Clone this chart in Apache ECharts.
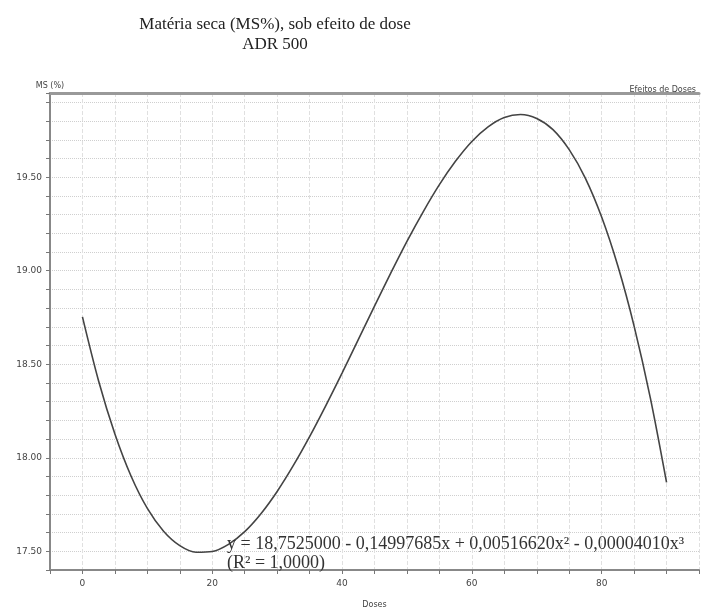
<!DOCTYPE html>
<html>
<head>
<meta charset="utf-8">
<script src="https://cdn.jsdelivr.net/npm/echarts@6/dist/echarts.min.js"></script>
<style>
  html, body { margin: 0; padding: 0; background: #fff; }
  #chart { width: 702px; height: 614px; }
</style>
</head>
<body>
<div id="chart"></div>
<script>
// doses (x) and MS% values
const doses = [0, 2.5, 5, 7.5, 10, 12.5, 15, 17.5, 20, 22.5, 25, 27.5, 30, 32.5, 35, 37.5, 40, 42.5, 45,
  47.5, 50, 52.5, 55, 57.5, 60, 62.5, 65, 67.5, 70, 72.5, 75, 77.5, 80, 82.5, 85, 87.5, 90];
const msValues = [18.753, 18.409, 18.127, 17.901, 17.729, 17.607, 17.530, 17.495, 17.499, 17.537, 17.605,
  17.701, 17.820, 17.959, 18.113, 18.279, 18.453, 18.632, 18.811, 18.987, 19.157, 19.315, 19.460, 19.586,
  19.691, 19.769, 19.819, 19.835, 19.814, 19.754, 19.647, 19.494, 19.287, 19.025, 18.704, 18.320, 17.868];
const xLabelTicks = [0, 20, 40, 60, 80];
const yLabelTicks = [17.5, 18.0, 18.5, 19.0, 19.5];
const equationText = 'y = 18,7525000 - 0,14997685x + 0,00516620x² - 0,00004010x³\n(R² = 1,0000)';

const chart = echarts.init(document.getElementById('chart'));

const serif = '"Liberation Serif", "DejaVu Serif", serif';
const sans = '"DejaVu Sans", "Liberation Sans", sans-serif';

const option = {
  animation: false,
  backgroundColor: '#fff',
  title: [
    {
      text: 'Matéria seca (MS%), sob efeito de dose\nADR 500',
      left: 270,
      textAlign: 'center',
      top: 10,
      textStyle: { fontFamily: serif, fontWeight: 'normal', fontSize: 17, color: '#222', lineHeight: 20 }
    },
    {
      text: 'Efeitos de Doses',
      right: 1,
      top: 81,
      textStyle: { fontFamily: sans, fontWeight: 'normal', fontSize: 8, color: '#444' }
    },
    {
      text: equationText,
      left: 222,
      top: 530,
      textStyle: { fontFamily: serif, fontWeight: 'normal', fontSize: 18, color: '#333', lineHeight: 19 }
    }
  ],
  grid: { left: 50, top: 93, width: 656, height: 483 },
  xAxis: [
    {
      type: 'value',
      min: -5,
      max: 95,
      interval: 5,
      name: 'Doses',
      nameLocation: 'middle',
      nameGap: 31,
      nameTextStyle: { fontFamily: sans, fontSize: 8, color: '#444' },
      axisLine: { onZero: false, lineStyle: { color: '#888', width: 2 } },
      axisTick: { show: true, length: 4, lineStyle: { color: '#777' } },
      axisLabel: {
        fontFamily: sans, fontSize: 9, color: '#444', margin: 9,
        formatter: v => (xLabelTicks.includes(Math.round(v)) && Math.abs(v - Math.round(v)) < 1e-6) ? String(Math.round(v)) : ''
      },
      splitLine: { show: true, lineStyle: { color: '#e0e0e0', type: 'dashed', width: 1 } }
    },
    {
      type: 'value',
      position: 'top',
      min: -5,
      max: 95,
      axisLine: { show: true, onZero: false, lineStyle: { color: '#999', width: 3 } },
      axisTick: { show: false },
      axisLabel: { show: false },
      splitLine: { show: false }
    }
  ],
  yAxis: {
    type: 'value',
    min: 17.4,
    max: 19.95,
    interval: 0.1,
    name: 'MS (%)',
    nameLocation: 'end',
    nameGap: 3,
    nameTextStyle: { fontFamily: sans, fontSize: 8, color: '#444', align: 'center' },
    axisLine: { show: true, onZero: false, lineStyle: { color: '#888', width: 2 } },
    axisTick: { show: true, length: 4, lineStyle: { color: '#777' } },
    axisLabel: {
      fontFamily: sans, fontSize: 9, color: '#444', margin: 8,
      formatter: v => yLabelTicks.some(t => Math.abs(t - v) < 1e-6) ? v.toFixed(2) : ''
    },
    splitLine: { show: true, lineStyle: { color: '#cfcfcf', type: 'dotted', width: 1 } }
  },
  series: [
    {
      type: 'line',
      data: doses.map((d, i) => [d, msValues[i]]),
      smooth: 0.3,
      showSymbol: false,
      lineStyle: { color: '#444', width: 1.6 },
      xAxisIndex: 0
    }
  ]
};

chart.setOption(option);
</script>
</body>
</html>
